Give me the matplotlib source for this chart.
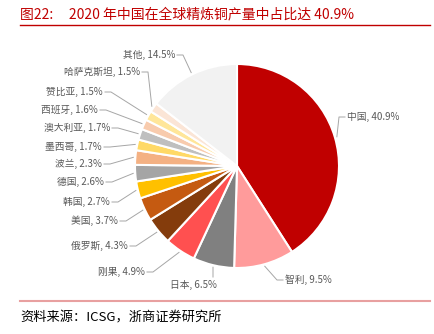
import numpy as np
import matplotlib.pyplot as plt
from matplotlib.lines import Line2D

plt.rcParams['font.family'] = ['Noto Sans CJK SC', 'DejaVu Sans']

countries = ['中国', '智利', '日本', '刚果', '俄罗斯', '美国', '韩国', '德国', '波兰',
             '墨西哥', '澳大利亚', '西班牙', '赞比亚', '哈萨克斯坦', '其他']
shares = [40.9, 9.5, 6.5, 4.9, 4.3, 3.7, 2.7, 2.6, 2.3, 1.7, 1.7, 1.6, 1.5, 1.5, 14.5]
colors = ['#C00000', '#FF9B9B', '#808080', '#FF5050', '#843C0C', '#C55A11', '#FFC000',
          '#A5A5A5', '#F4B183', '#FFD966', '#BFBFBF', '#F8CBAD', '#FFE699', '#FBE5D6', '#F2F2F2']

# label anchor in pixels (x, y, ha)
label_pos = [(347, 117, 'left'), (285, 280, 'left'), (217, 285, 'right'), (145, 272, 'right'),
             (128, 246, 'right'), (118, 221, 'right'), (110, 202, 'right'), (104, 182, 'right'),
             (102, 164, 'right'), (102, 147, 'right'), (110, 128, 'right'), (98, 110, 'right'),
             (103, 92, 'right'), (140, 72, 'right'), (175, 55, 'right')]

W, H = 435, 334
cx, cy, R = 237, 166, 102

fig = plt.figure(figsize=(W / 100, H / 100), dpi=100)
fig.patch.set_facecolor('white')

ax = fig.add_axes([(cx - R) / W, (H - cy - R) / H, 2 * R / W, 2 * R / H])
wedges, _ = ax.pie(shares, colors=colors, startangle=90, counterclock=False,
                   wedgeprops=dict(edgecolor='white', linewidth=1.5))
ax.set_xlim(-1, 1)
ax.set_ylim(-1, 1)
ax.axis('off')


def to_data(px, py):
    return (px - cx) / R, (cy - py) / R


for w, name, val, (tx, ty, ha) in zip(wedges, countries, shares, label_pos):
    mid = np.deg2rad((w.theta1 + w.theta2) / 2)
    wx, wy = 1.02 * np.cos(mid), 1.02 * np.sin(mid)
    if name == '日本':
        ex, ey = to_data(213, 277)
        xs, ys = [wx, ex], [wy, ey]
    else:
        side = 1 if ha == 'left' else -1
        ex, ey = to_data(tx - 2 * side, ty)
        bx, by = to_data(tx - 8 * side, ty)
        xs, ys = [wx, bx, ex], [wy, by, ey]
    ax.add_line(Line2D(xs, ys, color='#A6A6A6', lw=0.7, clip_on=False))
    lx, ly = to_data(tx, ty)
    ax.text(lx, ly, f'{name}, {val}%', ha=ha, va='center', fontsize=7,
            color='#595959', clip_on=False)

fig.text(20 / W, 1 - 14 / H, '图22:     2020 年中国在全球精炼铜产量中占比达 40.9%',
         color='#C00000', fontsize=10, ha='left', va='center')
fig.add_artist(Line2D([20 / W, 430 / W], [1 - 25 / H, 1 - 25 / H], color='#C00000', lw=1))
fig.add_artist(Line2D([20 / W, 430 / W], [1 - 301 / H, 1 - 301 / H], color='#E8A0A0', lw=1.5))
fig.text(20 / W, 1 - 318 / H, '资料来源：ICSG，浙商证券研究所', color='black', fontsize=9.5,
         ha='left', va='center')

fig.savefig('out.png', dpi=100)
